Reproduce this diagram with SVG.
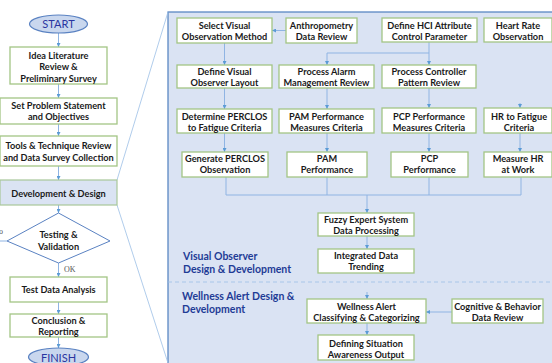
<svg xmlns="http://www.w3.org/2000/svg" width="552" height="363" viewBox="0 0 552 363">
<style>
.bx{fill:#ffffff;stroke:#a3c585;stroke-width:1.3}
.t{font-family:Lato,"Liberation Sans",sans-serif;font-weight:bold;font-size:9.2px;fill:#1a1a1a;text-anchor:middle}
.c{fill:none;stroke:#8fb4e3;stroke-width:1}
.z{fill:none;stroke:#9cbfe6;stroke-width:0.8}
.g{font-family:Lato,"Liberation Sans",sans-serif;font-weight:bold;font-size:10.5px;fill:#1f3c96}
.se{font-family:"Liberation Serif",serif;font-size:8px;fill:#555}
.term{fill:#c9d7ee;stroke:#5a82c2;stroke-width:1.2}
.tt{font-family:Lato,"Liberation Sans",sans-serif;font-size:11px;fill:#2a35a0;text-anchor:middle}
</style>
<defs>
<marker id="ah" viewBox="0 0 6 6" refX="6" refY="3" markerWidth="4" markerHeight="4" orient="auto"><path d="M0,0 L6,3 L0,6 z" fill="#5b9bd5"/></marker>
</defs>
<rect width="552" height="363" fill="#ffffff"/>

<g id="panel">
<rect x="168" y="12" width="400" height="370" fill="#dae3f3" stroke="#4f7fbf" stroke-width="1.2"/>
<line x1="168" y1="282" x2="552" y2="282" stroke="#9cbfe6" stroke-width="0.8" stroke-dasharray="4,3"/>
</g>
<g id="zoomlines">
<line class="z" x1="117" y1="180" x2="168" y2="12"/>
<line class="z" x1="117" y1="205" x2="168" y2="363"/>
</g>

<g id="connectors">
<line class="c" x1="58.5" y1="33" x2="58.5" y2="47" marker-end="url(#ah)"/>
<line class="c" x1="58.5" y1="84" x2="58.5" y2="98" marker-end="url(#ah)"/>
<line class="c" x1="58.5" y1="124" x2="58.5" y2="136" marker-end="url(#ah)"/>
<line class="c" x1="58.5" y1="166" x2="58.5" y2="180" marker-end="url(#ah)"/>
<line class="c" x1="58.5" y1="205" x2="58.5" y2="213" marker-end="url(#ah)"/>
<line class="c" x1="58.5" y1="263" x2="58.5" y2="277" marker-end="url(#ah)"/>
<line class="c" x1="58.5" y1="302" x2="58.5" y2="314" marker-end="url(#ah)"/>
<line class="c" x1="58.5" y1="337" x2="58.5" y2="348" marker-end="url(#ah)"/>
<line class="c" x1="7" y1="241" x2="0" y2="241"/>
<line class="c" x1="286" y1="30.5" x2="272" y2="30.5" marker-end="url(#ah)"/>
<line class="c" x1="224.5" y1="43" x2="224.5" y2="65" marker-end="url(#ah)"/>
<polyline class="c" points="429,42 429,53 327,53 327,65" marker-end="url(#ah)"/>
<line class="c" x1="429" y1="53" x2="429" y2="65" marker-end="url(#ah)"/>
<line class="c" x1="520" y1="103" x2="520" y2="108" marker-end="url(#ah)"/>
<line class="c" x1="224.5" y1="88" x2="224.5" y2="109" marker-end="url(#ah)"/>
<line class="c" x1="327" y1="88" x2="327" y2="109" marker-end="url(#ah)"/>
<line class="c" x1="429" y1="88" x2="429" y2="108" marker-end="url(#ah)"/>
<line class="c" x1="224.5" y1="133" x2="224.5" y2="152" marker-end="url(#ah)"/>
<line class="c" x1="327" y1="133" x2="327" y2="152" marker-end="url(#ah)"/>
<line class="c" x1="429" y1="133" x2="429" y2="152" marker-end="url(#ah)"/>
<line class="c" x1="520" y1="133" x2="520" y2="152" marker-end="url(#ah)"/>
<polyline class="c" points="226,177 226,195 521,195 521,177"/>
<line class="c" x1="327" y1="177" x2="327" y2="195"/>
<line class="c" x1="429" y1="177" x2="429" y2="195"/>
<line class="c" x1="367" y1="195" x2="367" y2="213" marker-end="url(#ah)"/>
<line class="c" x1="367" y1="236" x2="367" y2="249" marker-end="url(#ah)"/>
<line class="c" x1="367" y1="292" x2="367" y2="299" marker-end="url(#ah)"/>
<line class="c" x1="452" y1="312" x2="426" y2="312" marker-end="url(#ah)"/>
<line class="c" x1="367" y1="323" x2="367" y2="335" marker-end="url(#ah)"/>
</g>

<g id="start"><ellipse class="term" cx="58.5" cy="24" rx="29" ry="9"/><text class="tt" x="58.5" y="28">START</text></g>
<g id="idea"><rect class="bx" x="10" y="47" width="97" height="37"/><text class="t"><tspan x="58.5" y="58.5">Idea Literature</tspan><tspan x="58.5" y="70">Review &amp;</tspan><tspan x="58.5" y="81.5">Preliminary Survey</tspan></text></g>
<g id="problem"><rect class="bx" x="0" y="98" width="117" height="26"/><text class="t"><tspan x="58.5" y="109">Set Problem Statement</tspan><tspan x="58.5" y="120">and Objectives</tspan></text></g>
<g id="tools"><rect class="bx" x="0" y="136" width="117" height="30"/><text class="t"><tspan x="58.5" y="148.5">Tools &amp; Technique Review</tspan><tspan x="58.5" y="161">and Data Survey Collection</tspan></text></g>
<g id="dev"><rect x="0" y="180" width="117" height="25" fill="#dae3f3" stroke="#a8c79a" stroke-width="1.2"/><text class="t" x="58.5" y="197">Development &amp; Design</text></g>
<g id="testing"><polygon points="58.5,213 110,241 58.5,263 7,241" fill="#ffffff" stroke="#5a82c2" stroke-width="1"/><text class="t"><tspan x="58.5" y="238">Testing &amp;</tspan><tspan x="58.5" y="250">Validation</tspan></text>
<text class="se" x="3" y="234" text-anchor="end">No</text><text class="se" x="64" y="272">OK</text></g>
<g id="analysis"><rect class="bx" x="10" y="277" width="97" height="25"/><text class="t" x="58.5" y="293">Test Data Analysis</text></g>
<g id="conclusion"><rect class="bx" x="10" y="314" width="97" height="23"/><text class="t"><tspan x="58.5" y="323.5">Conclusion &amp;</tspan><tspan x="58.5" y="335">Reporting</tspan></text></g>
<g id="finish"><ellipse class="term" cx="58.5" cy="357" rx="30" ry="9"/><text class="tt" x="58.5" y="362">FINISH</text></g>

<g id="select"><rect class="bx" x="177" y="18" width="95" height="25"/><text class="t"><tspan x="224.5" y="28.5">Select Visual</tspan><tspan x="224.5" y="39.5">Observation Method</tspan></text></g>
<g id="anthro"><rect class="bx" x="286" y="18" width="71" height="25"/><text class="t"><tspan x="321.5" y="28.5">Anthropometry</tspan><tspan x="321.5" y="39.5">Data Review</tspan></text></g>
<g id="hci"><rect class="bx" x="382" y="18" width="95" height="24"/><text class="t"><tspan x="429.5" y="28.5">Define HCI Attribute</tspan><tspan x="429.5" y="39.5">Control Parameter</tspan></text></g>
<g id="heartrate"><rect class="bx" x="484" y="18" width="68" height="24"/><text class="t"><tspan x="518" y="28.5">Heart Rate</tspan><tspan x="518" y="39.5">Observation</tspan></text></g>

<g id="layout"><rect class="bx" x="177" y="65" width="95" height="23"/><text class="t"><tspan x="224.5" y="74.5">Define Visual</tspan><tspan x="224.5" y="85.5">Observer Layout</tspan></text></g>
<g id="alarm"><rect class="bx" x="279" y="65" width="95" height="23"/><text class="t"><tspan x="326.5" y="74.5">Process Alarm</tspan><tspan x="326.5" y="85.5">Management Review</tspan></text></g>
<g id="controller"><rect class="bx" x="382" y="65" width="94" height="23"/><text class="t"><tspan x="429" y="74.5">Process Controller</tspan><tspan x="429" y="85.5">Pattern Review</tspan></text></g>

<g id="perclos"><rect class="bx" x="177" y="109" width="95" height="24"/><text class="t"><tspan x="224.5" y="119.5">Determine PERCLOS</tspan><tspan x="224.5" y="130.5">to Fatigue Criteria</tspan></text></g>
<g id="pam"><rect class="bx" x="279" y="109" width="95" height="24"/><text class="t"><tspan x="326.5" y="119.5">PAM Performance</tspan><tspan x="326.5" y="130.5">Measures Criteria</tspan></text></g>
<g id="pcp"><rect class="bx" x="382" y="108" width="94" height="25"/><text class="t"><tspan x="429" y="119.5">PCP Performance</tspan><tspan x="429" y="130.5">Measures Criteria</tspan></text></g>
<g id="hrfatigue"><rect class="bx" x="484" y="108" width="68" height="25"/><text class="t"><tspan x="519" y="119.5">HR to Fatigue</tspan><tspan x="519" y="130.5">Criteria</tspan></text></g>

<g id="genperclos"><rect class="bx" x="182" y="152" width="86" height="25"/><text class="t"><tspan x="225" y="161.5">Generate PERCLOS</tspan><tspan x="225" y="173">Observation</tspan></text></g>
<g id="pamperf"><rect class="bx" x="287" y="152" width="80" height="25"/><text class="t"><tspan x="327" y="161.5">PAM</tspan><tspan x="327" y="173">Performance</tspan></text></g>
<g id="pcpperf"><rect class="bx" x="391" y="152" width="77" height="25"/><text class="t"><tspan x="429.5" y="161.5">PCP</tspan><tspan x="429.5" y="173">Performance</tspan></text></g>
<g id="measurehr"><rect class="bx" x="484" y="152" width="68" height="25"/><text class="t"><tspan x="518" y="161.5">Measure HR</tspan><tspan x="518" y="173">at Work</tspan></text></g>

<g id="fuzzy"><rect class="bx" x="318" y="213" width="96" height="23"/><text class="t"><tspan x="366" y="222.5">Fuzzy Expert System</tspan><tspan x="366" y="234">Data Processing</tspan></text></g>
<g id="integrated"><rect class="bx" x="318" y="249" width="96" height="24"/><text class="t"><tspan x="366" y="258.5">Integrated Data</tspan><tspan x="366" y="270">Trending</tspan></text></g>
<g id="wellness"><rect class="bx" x="307" y="299" width="119" height="24"/><text class="t"><tspan x="366.5" y="309.5">Wellness Alert</tspan><tspan x="366.5" y="320.5">Classifying &amp; Categorizing</tspan></text></g>
<g id="cognitive"><rect class="bx" x="452" y="299" width="91" height="24"/><text class="t"><tspan x="497.5" y="309.5">Cognitive &amp; Behavior</tspan><tspan x="497.5" y="320.5">Data Review</tspan></text></g>
<g id="situation"><rect class="bx" x="318" y="335" width="96" height="25"/><text class="t"><tspan x="366" y="346.5">Defining Situation</tspan><tspan x="366" y="357.5">Awareness Output</tspan></text></g>

<g id="labels">
<text class="g"><tspan x="183" y="260">Visual Observer</tspan><tspan x="183" y="273">Design &amp; Development</tspan></text>
<text class="g"><tspan x="182" y="300">Wellness Alert Design &amp;</tspan><tspan x="182" y="313">Development</tspan></text>
</g>
</svg>
